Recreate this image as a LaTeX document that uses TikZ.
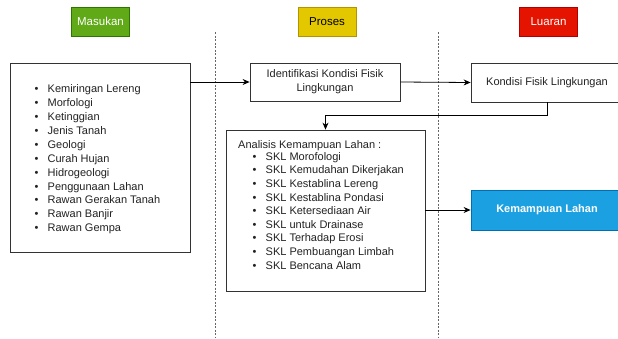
\documentclass[tikz,border=0pt]{standalone}
\usepackage{fontspec}
\setmainfont{Liberation Sans}
\usetikzlibrary{arrows.meta}
\definecolor{ggreen}{HTML}{60A917}
\definecolor{ggreenD}{HTML}{2D7600}
\definecolor{yyel}{HTML}{E3C800}
\definecolor{yyelD}{HTML}{B09500}
\definecolor{rred}{HTML}{E51400}
\definecolor{rredD}{HTML}{B20000}
\definecolor{bblue}{HTML}{1BA1E2}
\definecolor{bblueD}{HTML}{006EAF}
\definecolor{txt}{HTML}{222222}
\definecolor{edge}{HTML}{333333}
\tikzset{
  hdr/.style={minimum width=58pt, minimum height=29pt, inner sep=0pt, line width=0.7pt, font=\fontsize{11.5}{13}\selectfont},
  box/.style={draw=edge, line width=0.8pt, fill=white, inner sep=2pt, align=center, text=txt, font=\fontsize{11}{14}\selectfont},
  item/.style={anchor=west, inner sep=0pt, text height=8pt, text depth=2.5pt, text=txt, font=\fontsize{11}{14}\selectfont},
  sep/.style={draw=gray!80!black, line width=0.8pt, dash pattern=on 2pt off 1.5pt},
  arr/.style={draw=black, line width=0.8pt, -{Stealth[length=7pt,width=6pt]}},
}
\newcommand{\bul}[1]{\makebox[13pt][l]{\textbullet}#1}
\begin{document}
\begin{tikzpicture}[x=1pt,y=-1pt]
\useasboundingbox (0,0) rectangle (618,338);
\clip (0,0) rectangle (618,338);
% separators
\coordinate (s1t) at (215.5,32);
\coordinate (s1b) at (215.5,338);
\coordinate (s2t) at (438,32);
\coordinate (s2b) at (438,338);
\draw[sep] (s1t) -- (s1b);
\draw[sep] (s2t) -- (s2b);
% headers
\node[hdr, fill=ggreen, draw=ggreenD, text=white] (hin) at (100.5,21.5) {Masukan};
\node[hdr, fill=yyel, draw=yyelD, text=black] (hpr) at (327,21.5) {Proses};
\node[hdr, fill=rred, draw=rredD, text=white] (hout) at (548.5,21.5) {Luaran};
% left box
\node[box, minimum width=180pt, minimum height=189pt] (lbox) at (100,157.5) {};
\foreach \t [count=\i] in {Kemiringan Lereng, Morfologi, Ketinggian, Jenis Tanah, Geologi, Curah Hujan, Hidrogeologi, Penggunaan Lahan, Rawan Gerakan Tanah, Rawan Banjir, Rawan Gempa}
  \node[item] (li\i) at (34.5,{90+13.9*(\i-1)}) {\bul{\t}};
% identification
\node[box, minimum width=150pt, minimum height=38pt] (idf) at (325,82) {Identifikasi Kondisi Fisik\\Lingkungan};
% kondisi
\node[box, minimum width=152pt, minimum height=39pt] (kon) at (547,82.5) {Kondisi Fisik Lingkungan};
% analysis
\node[box, minimum width=199pt, minimum height=161pt] (ana) at (325.5,210.5) {};
\node[item] (at) at (238,146) {Analisis Kemampuan Lahan :};
\foreach \t [count=\i] in {SKL Morofologi, SKL Kemudahan Dikerjakan, SKL Kestablina Lereng, SKL Kestablina Pondasi, SKL Ketersediaan Air, SKL untuk Drainase, SKL Terhadap Erosi, SKL Pembuangan Limbah, SKL Bencana Alam}
  \node[item] (ai\i) at (252.5,{157.5+13.6*(\i-1)}) {\bul{\t}};
% kemampuan
\node[box, fill=bblue, draw=bblueD, text=white, font=\fontsize{11}{14}\selectfont\bfseries, minimum width=152pt, minimum height=40pt] (kem) at (547,210) {Kemampuan Lahan};
% connectors
\draw[arr] (lbox.east |- idf.west) -- (idf.west);
\draw[arr] (idf.east) -- (kon.west);
\draw[arr] (kon.south) -- ++(0,13) -| (ana.north);
\draw[arr] (ana.east |- kem.west) -- (kem.west);
\end{tikzpicture}
\end{document}
